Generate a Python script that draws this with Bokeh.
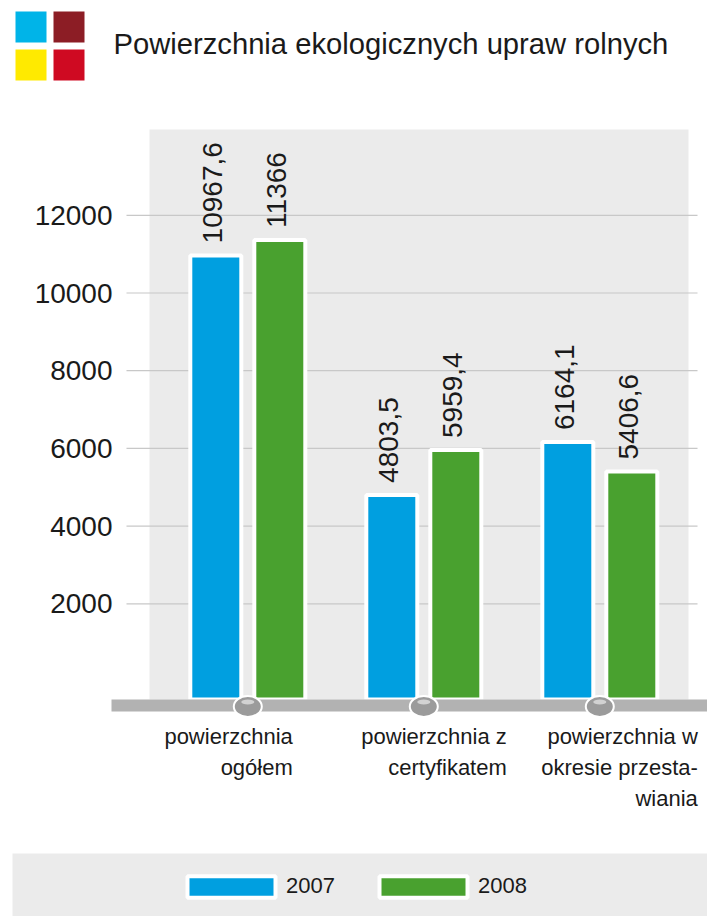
import math
from bokeh.plotting import figure
from bokeh.models import Range1d, FixedTicker, ColumnDataSource, Legend, LegendItem
from bokeh.core.properties import value
from bokeh.transform import dodge
from bokeh.embed import file_html
from bokeh.resources import INLINE

# ---------------- data ----------------
title_text = "Powierzchnia ekologicznych upraw rolnych"
categories = ["powierzchnia\nogółem",
              "powierzchnia z\ncertyfikatem",
              "powierzchnia w\nokresie przesta-\nwiania"]
series_names = ["2007", "2008"]
values_2007 = [10967.6, 4803.5, 6164.1]
values_2008 = [11366, 5959.4, 5406.6]
labels_2007 = ["10967,6", "4803,5", "6164,1"]
labels_2008 = ["11366", "5959,4", "5406,6"]
y_ticks = [2000, 4000, 6000, 8000, 10000, 12000]

# ---------------- styles ----------------
BLUE = "#009FE0"
GREEN = "#49A12F"
PANEL = "#EBEBEB"
GRIDC = "#C8C8C8"
BASEC = "#B2B2B2"
TEXTC = "#1A1A1A"
FONT = "Liberation Sans"
header_colors = ["#00B4E8", "#8C1D25", "#FFEA00", "#CF0A22"]

# ---------------- layout (page pixels -> data) ----------------
W, H = 707, 916            # canvas == page (template has no body margin)
CAT0 = 247.3               # page x of first category centre
PX_CAT = 176.0             # px per category
Y0 = 681.0                 # page y of value 0
PX_UNIT = 77.7 / 2000.0    # px per value unit


def dx(px):
    return (px - CAT0) / PX_CAT


def dy(py):
    return (Y0 - py) / PX_UNIT


idx = list(range(len(categories)))
src = ColumnDataSource(dict(idx=idx, v07=values_2007, v08=values_2008,
                            l07=labels_2007, l08=labels_2008, cat=categories,
                            xoff=[45, 83, 98]))

p = figure(width=W, height=H, output_backend="svg", toolbar_location=None,
           x_range=Range1d(dx(0), dx(W)), y_range=Range1d(dy(H), dy(0)),
           x_axis_location=None, min_border=0)
p.outline_line_color = None
p.background_fill_color = "white"
p.border_fill_color = "white"
p.xgrid.visible = False
p.ygrid.visible = False

# header squares
sq_l = [15, 53, 15, 53]
sq_t = [11, 11, 49, 49]
p.quad(left=[dx(v) for v in sq_l], right=[dx(v + 31) for v in sq_l],
       top=[dy(v) for v in sq_t], bottom=[dy(v + 31) for v in sq_t],
       fill_color=header_colors, line_color=None)
p.text(x=[dx(113)], y=[dy(43)], text=[title_text], text_font=value(FONT),
       text_font_size="29.2px", text_color=TEXTC, text_baseline="alphabetic",
       text_align="left")

# plot panel
p.quad(left=[dx(149)], right=[dx(688)], top=[dy(129)], bottom=[dy(699)],
       fill_color=PANEL, line_color=None)
p.segment(x0=[dx(126)] * len(y_ticks), x1=[dx(697)] * len(y_ticks),
          y0=y_ticks, y1=y_ticks, line_color=GRIDC, line_width=1.2)

# y axis
ax = p.yaxis[0]
ax.ticker = FixedTicker(ticks=y_ticks)
ax.fixed_location = dx(112)
ax.axis_line_color = None
ax.major_tick_line_color = None
ax.minor_tick_line_color = None
ax.major_tick_out = 0
ax.major_tick_in = 0
ax.major_label_standoff = 0
ax.major_label_text_font = FONT
ax.major_label_text_font_size = "28px"
ax.major_label_text_color = TEXTC

# bars
off = 32 / PX_CAT
bw = 51 / PX_CAT
base = dy(699)
r07 = p.vbar(x=dodge("idx", -off, range=p.x_range), top="v07", bottom=base,
             width=bw, source=src, fill_color=BLUE, line_color="white", line_width=4)
r08 = p.vbar(x=dodge("idx", off, range=p.x_range), top="v08", bottom=base,
             width=bw, source=src, fill_color=GREEN, line_color="white", line_width=4)

# value labels
for col, lab in (("v07", "l07"), ("v08", "l08")):
    p.text(x=dodge("idx", -off if col == "v07" else off, range=p.x_range), y=col,
           text=lab, source=src, angle=math.pi / 2, text_align="left",
           text_baseline="middle", y_offset=-12, x_offset=-3,
           text_font=value(FONT), text_font_size="28px", text_color=TEXTC)

# baseline bar and knobs
p.quad(left=[dx(111)], right=[dx(707)], top=[dy(699)], bottom=[dy(711)],
       fill_color=BASEC, line_color=None)
p.ellipse(x="idx", y=dy(706), width=28, height=21, width_units="screen",
          height_units="screen", source=src, fill_color="#9B9B9B",
          line_color="white", line_width=2)
p.ellipse(x="idx", y=dy(701.5), width=13, height=5, width_units="screen",
          height_units="screen", source=src, fill_color="#D2D2D2", line_color=None)

# category labels
p.text(x="idx", y=dy(723.5), text="cat", source=src, x_offset="xoff",
       text_align="right", text_baseline="top", text_line_height=1.23,
       text_font=value(FONT), text_font_size="22px", text_color=TEXTC)

# legend band
p.quad(left=[dx(12)], right=[dx(707)], top=[dy(853)], bottom=[dy(916)],
       fill_color=PANEL, line_color=None)

legend = Legend(items=[LegendItem(label=series_names[0], renderers=[r07]),
                       LegendItem(label=series_names[1], renderers=[r08])],
                orientation="horizontal", location=(176, 16.25),
                glyph_width=110, glyph_height=27, label_standoff=-5, spacing=33,
                padding=0, margin=0, background_fill_alpha=0,
                border_line_alpha=0, label_text_font=FONT,
                label_text_font_size="22px", label_text_color=TEXTC)
p.add_layout(legend, "center")

open("out.html", "w").write(file_html(p, INLINE))
